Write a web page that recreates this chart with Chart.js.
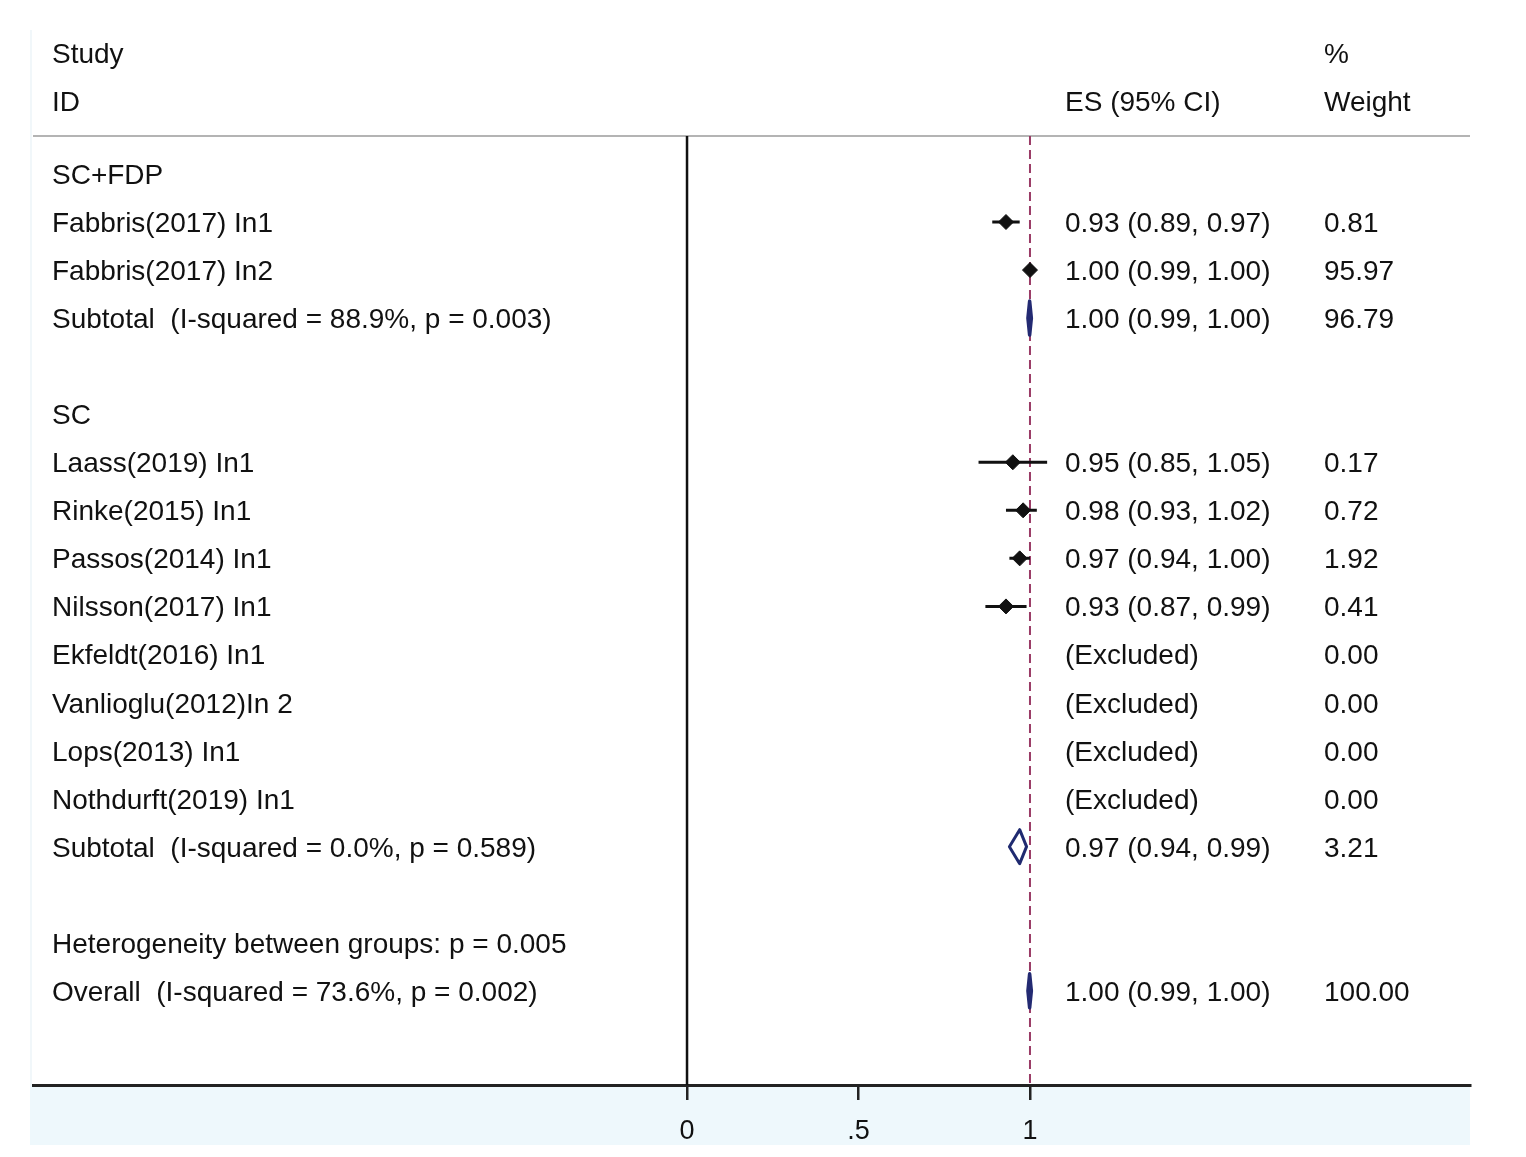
<!DOCTYPE html>
<html><head><meta charset="utf-8">
<script src="https://cdn.jsdelivr.net/npm/chart.js@4.4.1/dist/chart.umd.min.js"></script>
<style>html,body{margin:0;padding:0;background:#fff;}canvas{display:block;}</style>
</head><body>
<canvas id="c" width="1526" height="1157" style="width:1526px;height:1157px"></canvas>
<script>
// ---- data ----
const studyLabels = ['SC+FDP','Fabbris(2017) In1','Fabbris(2017) In2','Subtotal  (I-squared = 88.9%, p = 0.003)','',
  'SC','Laass(2019) In1','Rinke(2015) In1','Passos(2014) In1','Nilsson(2017) In1','Ekfeldt(2016) In1',
  'Vanlioglu(2012)In 2','Lops(2013) In1','Nothdurft(2019) In1','Subtotal  (I-squared = 0.0%, p = 0.589)','',
  'Heterogeneity between groups: p = 0.005','Overall  (I-squared = 73.6%, p = 0.002)'];
const rowType = ['group','study','study','subtotal','blank','group','study','study','study','study',
  'excluded','excluded','excluded','excluded','hollow','blank','text','overall'];
const esValues = [null,0.93,1.00,0.999,null,null,0.95,0.98,0.97,0.93,null,null,null,null,0.97,null,null,0.999];
const ciLower  = [null,0.89,0.99,0.994,null,null,0.85,0.93,0.94,0.87,null,null,null,null,0.94,null,null,0.994];
const ciUpper  = [null,0.97,1.00,1.004,null,null,1.05,1.02,1.00,0.99,null,null,null,null,0.99,null,null,1.004];
const esText = ['','0.93 (0.89, 0.97)','1.00 (0.99, 1.00)','1.00 (0.99, 1.00)','','',
  '0.95 (0.85, 1.05)','0.98 (0.93, 1.02)','0.97 (0.94, 1.00)','0.93 (0.87, 0.99)',
  '(Excluded)','(Excluded)','(Excluded)','(Excluded)','0.97 (0.94, 0.99)','','','1.00 (0.99, 1.00)'];
const weightText = ['','0.81','95.97','96.79','','','0.17','0.72','1.92','0.41','0.00','0.00','0.00','0.00','3.21','','','100.00'];
const headerLeft = ['Study','ID'];
const headerES = ['','ES (95% CI)'];
const headerWeight = ['%','Weight'];
const headerRows = [-2.52,-1.52];
const tickValues = [0, 0.5, 1];
const tickLabels = ['0', '.5', '1'];
const nullLine = 0;
const refLine = 1;

// ---- build datasets ----
const pointData = [];
const ciData = [];
rowType.forEach((t, i) => {
  if (t === 'study') {
    pointData.push({x: esValues[i], y: i});
    ciData.push({x: ciLower[i], y: i}, {x: ciUpper[i], y: i}, {x: null, y: null});
  }
});

const FONT = '"Liberation Sans", Arial, Helvetica, sans-serif';
const FS = 28;

const forestPlugin = {
  id: 'forest',
  beforeDraw(chart) {
    const {ctx, chartArea} = chart;
    ctx.save();
    ctx.fillStyle = '#ffffff';
    ctx.fillRect(0, 0, chart.width, chart.height);
    ctx.fillStyle = '#eef8fc';
    ctx.fillRect(30, chartArea.bottom, chartArea.right - 30, 60);
    ctx.fillStyle = '#f1f7fa';
    ctx.fillRect(30, 30, 2, chartArea.bottom - 30);
    ctx.restore();
  },
  beforeDatasetsDraw(chart) {
    const {ctx, chartArea, scales: {x}} = chart;
    ctx.save();
    ctx.strokeStyle = '#b4b4b4';
    ctx.lineWidth = 2;
    ctx.beginPath();
    ctx.moveTo(chartArea.left, chartArea.top);
    ctx.lineTo(chartArea.right, chartArea.top);
    ctx.stroke();
    const x0 = x.getPixelForValue(nullLine);
    ctx.strokeStyle = '#111';
    ctx.lineWidth = 2.5;
    ctx.beginPath();
    ctx.moveTo(x0, chartArea.top);
    ctx.lineTo(x0, chartArea.bottom);
    ctx.stroke();
    const x1 = x.getPixelForValue(refLine);
    ctx.strokeStyle = '#9a3b66';
    ctx.lineWidth = 2;
    ctx.setLineDash([9, 5]);
    ctx.beginPath();
    ctx.moveTo(x1, chartArea.top);
    ctx.lineTo(x1, chartArea.bottom);
    ctx.stroke();
    ctx.restore();
  },
  afterDatasetsDraw(chart) {
    const {ctx, scales: {x, y}} = chart;
    ctx.save();
    rowType.forEach((t, i) => {
      if (t !== 'subtotal' && t !== 'hollow' && t !== 'overall') return;
      const yc = y.getPixelForValue(i);
      const xl = x.getPixelForValue(ciLower[i]);
      const xr = x.getPixelForValue(ciUpper[i]);
      const xe = x.getPixelForValue(esValues[i]);
      const h = 17;
      ctx.beginPath();
      ctx.moveTo(xl, yc);
      ctx.lineTo(xe, yc - h);
      ctx.lineTo(xr, yc);
      ctx.lineTo(xe, yc + h);
      ctx.closePath();
      ctx.lineJoin = 'round';
      if (t === 'hollow') {
        ctx.lineWidth = 3;
        ctx.strokeStyle = '#1f2a70';
        ctx.stroke();
      } else {
        ctx.fillStyle = '#2e3a8c';
        ctx.fill();
        ctx.lineWidth = 3.5;
        ctx.strokeStyle = '#232a72';
        ctx.stroke();
      }
    });
    ctx.font = FS + 'px ' + FONT;
    ctx.fillStyle = '#111';
    ctx.textBaseline = 'alphabetic';
    ctx.textAlign = 'left';
    const off = 10;
    headerRows.forEach((r, k) => {
      const yy = y.getPixelForValue(r) + off;
      ctx.fillText(headerLeft[k], 52, yy);
      if (headerES[k]) ctx.fillText(headerES[k], 1065, yy);
      ctx.fillText(headerWeight[k], 1324, yy);
    });
    studyLabels.forEach((s, i) => {
      const yy = y.getPixelForValue(i) + off;
      if (s) ctx.fillText(s, 52, yy);
      if (esText[i]) ctx.fillText(esText[i], 1065, yy);
      if (weightText[i]) ctx.fillText(weightText[i], 1324, yy);
    });
    ctx.restore();
  }
};

new Chart(document.getElementById('c'), {
  type: 'scatter',
  data: {
    datasets: [
      {
        label: 'CI',
        data: ciData,
        showLine: true,
        spanGaps: false,
        borderColor: '#111',
        borderWidth: 3,
        pointRadius: 0,
        order: 2
      },
      {
        label: 'ES',
        data: pointData,
        pointStyle: 'rectRot',
        pointRadius: 7.5,
        pointBackgroundColor: '#111',
        pointBorderColor: '#111',
        pointBorderWidth: 1,
        order: 1
      }
    ]
  },
  options: {
    responsive: false,
    animation: false,
    devicePixelRatio: 1,
    layout: {padding: {left: 33, right: 56, top: 136, bottom: 10}},
    plugins: {legend: {display: false}, tooltip: {enabled: false}},
    scales: {
      x: {
        type: 'linear',
        min: -1.907,
        max: 2.283,
        afterBuildTicks(scale) { scale.ticks = tickValues.map(v => ({value: v})); },
        afterFit(scale) { scale.height = 62; },
        ticks: {
          autoSkip: false,
          maxRotation: 0,
          padding: 15,
          color: '#111',
          font: {family: FONT, size: 27},
          callback: (v, i) => tickLabels[i]
        },
        grid: {drawOnChartArea: false, drawTicks: true, tickLength: 15, color: '#222', lineWidth: 2.5},
        border: {display: true, color: '#222', width: 3}
      },
      y: {
        type: 'linear',
        display: false,
        reverse: true,
        min: -0.79,
        max: 18.96
      }
    }
  },
  plugins: [forestPlugin]
});
</script>
</body></html>
